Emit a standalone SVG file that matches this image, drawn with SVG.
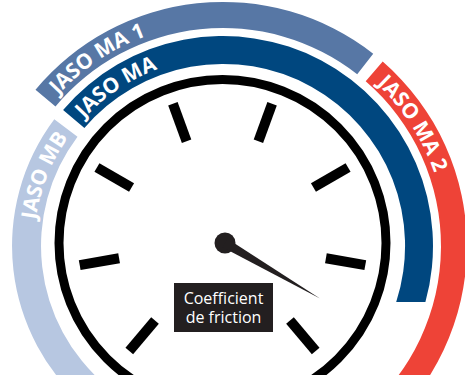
<svg xmlns="http://www.w3.org/2000/svg" width="465" height="383" viewBox="0 0 465 383">
<style>
.lbl{font-family:"Open Sans","DejaVu Sans",sans-serif;font-weight:700;font-size:21px;fill:#ffffff}
.tick{stroke:#000000;stroke-width:10;stroke-linecap:butt}
.cap{font-family:"Open Sans","DejaVu Sans",sans-serif;font-size:16px;fill:#ffffff;text-anchor:middle}
</style>
<defs>
<clipPath id="clip"><rect x="0" y="0" width="465" height="375"/></clipPath>
<path id="pMA1" d="M 58.2 95.0 A 223.5 223.5 0 0 1 334.75 52.4"/>
<path id="pMA" d="M 84.0 118.6 A 188.5 188.5 0 0 1 317.25 82.8"/>
<path id="pMB" d="M 35.8 219.7 A 189 189 0 0 1 190.2 59.9"/>
<path id="pMA2" d="M 376.9 83.9 A 223.5 223.5 0 0 1 416.6 357.75"/>
</defs>
<rect width="465" height="383" fill="#ffffff"/>
<g clip-path="url(#clip)">
<g id="jaso-ma1">
<path d="M 35.5 89.8 A 244 244 0 0 1 373.2 53.7 L 357.2 74.2 A 218 218 0 0 0 55.5 106.5 Z" fill="#5777a5"/>
<text class="lbl"><textPath href="#pMA1">JASO MA 1</textPath></text>
</g>
<g id="jaso-ma">
<path d="M 63.1 109.9 A 210 210 0 0 1 425.4 302 L 396.2 302 A 182 182 0 0 0 84.4 128 Z" fill="#00477f"/>
<text class="lbl"><textPath href="#pMA">JASO MA</textPath></text>
</g>
<g id="jaso-mb">
<path d="M 54.3 119.3 A 211 211 0 0 0 87.4 407.6 L 106 385.4 A 182 182 0 0 1 77.5 136.7 Z" fill="#b7c7e1"/>
<text class="lbl"><textPath href="#pMB">JASO MB</textPath></text>
</g>
<g id="jaso-ma2">
<path d="M 382.7 61.6 A 244 244 0 0 1 379.8 432.9 L 363.1 413 A 218 218 0 0 0 365.7 81.2 Z" fill="#ee4337"/>
<text class="lbl"><textPath href="#pMA2">JASO MA 2</textPath></text>
</g>
<g id="gauge">
<circle cx="222.5" cy="243" r="163.5" fill="none" stroke="#000000" stroke-width="9"/>
<g transform="translate(222.5 240)">
<line class="tick" x1="105" y1="0" x2="145" y2="0" transform="rotate(-110)"/>
<line class="tick" x1="105" y1="0" x2="145" y2="0" transform="rotate(-70)"/>
<line class="tick" x1="105" y1="0" x2="145" y2="0" transform="rotate(-30)"/>
<line class="tick" x1="105" y1="0" x2="145" y2="0" transform="rotate(10)"/>
<line class="tick" x1="105" y1="0" x2="145" y2="0" transform="rotate(50)"/>
<line class="tick" x1="105" y1="0" x2="145" y2="0" transform="rotate(130)"/>
<line class="tick" x1="105" y1="0" x2="145" y2="0" transform="rotate(170)"/>
<line class="tick" x1="105" y1="0" x2="145" y2="0" transform="rotate(210)"/>
</g>
</g>
</g>
<g id="needle">
<circle cx="225" cy="243" r="10.5" fill="#231f20"/>
<path d="M 222.6 247.2 L 320 298.5 L 227.4 238.8 Z" fill="#231f20"/>
</g>
<g id="label">
<rect x="174" y="283" width="99" height="49" fill="#231f20"/>
<text class="cap" x="223.5" y="303.5">Coefficient</text>
<text class="cap" x="223.5" y="322.5">de friction</text>
</g>
</svg>
